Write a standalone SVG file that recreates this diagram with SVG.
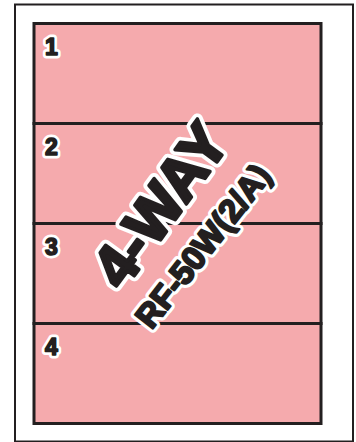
<svg xmlns="http://www.w3.org/2000/svg" width="356" height="442" viewBox="0 0 356 442">
<style>
.sec{fill:#F5AAAD;stroke:#231F20;stroke-width:3}
.num{font-family:"Liberation Sans",Arial,sans-serif;font-weight:bold;font-size:23px;fill:#231F20;stroke:#231F20;stroke-width:1.6px;stroke-linejoin:round}
.nh{font-family:"Liberation Sans",Arial,sans-serif;font-weight:bold;font-size:23px;fill:#fff;stroke:#fff;stroke-width:7px;stroke-linejoin:round}
.halo{fill:#fff;stroke:#fff;stroke-linejoin:round}
.big{font-family:"Liberation Sans",Arial,sans-serif;font-weight:bold;text-anchor:middle}
.ink{fill:#231F20;stroke:#231F20;stroke-linejoin:round}
</style>
<rect x="15" y="4.5" width="338" height="437" fill="#fff" stroke="#231F20" stroke-width="2"/>
<g id="section-1"><rect class="sec" x="34" y="23.5" width="287" height="100"/>
<text class="nh" x="45" y="55">1</text><text class="num" x="45" y="55">1</text></g>
<g id="section-2"><rect class="sec" x="34" y="123.5" width="287" height="100"/>
<text class="nh" x="45" y="155">2</text><text class="num" x="45" y="155">2</text></g>
<g id="section-3"><rect class="sec" x="34" y="223.5" width="287" height="100"/>
<text class="nh" x="45" y="255">3</text><text class="num" x="45" y="255">3</text></g>
<g id="section-4"><rect class="sec" x="34" y="323.5" width="287" height="100"/>
<text class="nh" x="45" y="355">4</text><text class="num" x="45" y="355">4</text></g>
<g id="connectors"></g>
<g id="title" transform="translate(177,217) rotate(-54)">
<text class="big halo" x="0" y="0" font-size="60" stroke-width="11">4-WAY</text>
<text class="big ink" x="0" y="0" font-size="60" stroke-width="3.5">4-WAY</text>
</g>
<g id="model" transform="translate(212,253) rotate(-52)">
<text class="big halo" x="0" y="0" font-size="33" stroke-width="8.5">RF-50W(2/A)</text>
<text class="big ink" x="0" y="0" font-size="33" stroke-width="2.2">RF-50W(2/A)</text>
</g>
</svg>
